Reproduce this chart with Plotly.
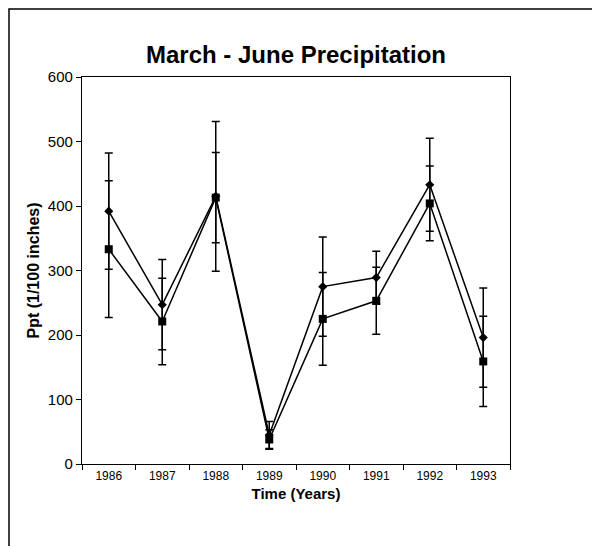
import plotly.graph_objects as go

years = ["1986", "1987", "1988", "1989", "1990", "1991", "1992", "1993"]
diamond_vals = [392, 247, 415, 45, 275, 289, 433, 196]
diamond_err = [90, 70, 116, 21, 77, 41, 72, 77]
square_vals = [333, 221, 413, 38, 225, 253, 404, 159]
square_err = [106, 67, 70, 15, 72, 52, 58, 70]

FONT = "Arial, 'Liberation Sans', Helvetica, sans-serif"

fig = go.Figure()
fig.add_trace(go.Scatter(
    x=years, y=square_vals, mode="lines+markers",
    line=dict(color="black", width=1.5),
    marker=dict(symbol="square", size=8, color="black"),
    error_y=dict(type="data", array=square_err, visible=True, color="black", thickness=1.5, width=4),
    showlegend=False,
))
fig.add_trace(go.Scatter(
    x=years, y=diamond_vals, mode="lines+markers",
    line=dict(color="black", width=1.5),
    marker=dict(symbol="diamond", size=7, color="black"),
    error_y=dict(type="data", array=diamond_err, visible=True, color="black", thickness=1.5, width=4),
    showlegend=False,
))

L, R, T, B = 74, 98, 69, 90
W, H = 600, 546
pw, ph = W - L - R, H - T - B

def px2paper_x(px):
    return (px - L) / pw

def px2paper_y(py):
    return (H - B - py) / ph

fig.add_shape(type="rect", xref="paper", yref="paper",
              x0=px2paper_x(1), x1=px2paper_x(590), y0=px2paper_y(570), y1=px2paper_y(1),
              line=dict(color="black", width=1.5), fillcolor="rgba(0,0,0,0)", layer="above")

fig.update_layout(
    width=W, height=H,
    margin=dict(l=L, r=R, t=T, b=B),
    paper_bgcolor="white", plot_bgcolor="white",
    font=dict(family=FONT, color="black"),
    title=dict(text="<b>March - June Precipitation</b>", font=dict(size=24, family=FONT, color="black"),
               x=(L + pw / 2) / W, xanchor="center",
               y=1 - 47 / H, yanchor="middle"),
    xaxis=dict(type="category", range=[-0.5, 7.5], tickson="boundaries",
               ticks="outside", ticklen=5, tickcolor="black", tickwidth=1,
               showline=True, linecolor="black", linewidth=1.2, mirror=True,
               showgrid=False, zeroline=False,
               tickfont=dict(size=12, family=FONT),
               title=dict(text="<b>Time (Years)</b>", font=dict(size=15, family=FONT), standoff=6)),
    yaxis=dict(range=[0, 600], dtick=100, ticks="outside", ticklen=5, tickcolor="black",
               showline=True, linecolor="black", linewidth=1.2, mirror=True,
               showgrid=False, zeroline=False,
               tickfont=dict(size=15, family=FONT),
               title=dict(text="<b>Ppt (1/100 inches)</b>", font=dict(size=16, family=FONT), standoff=4)),
)

fig.write_html("out.html")
